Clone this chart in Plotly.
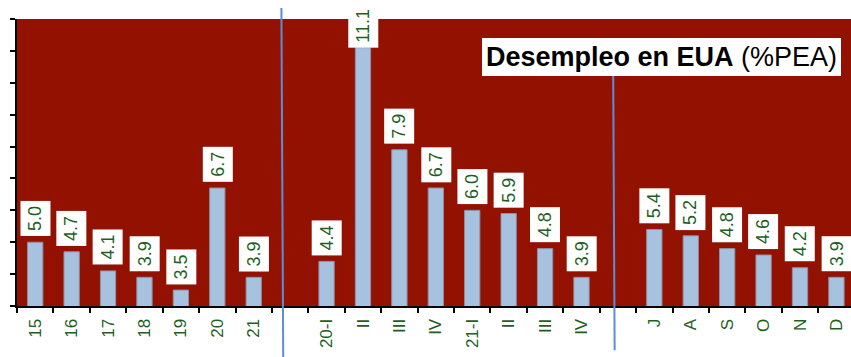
import plotly.graph_objects as go

# Unemployment rate (% of labour force), three blocks: annual, quarterly, monthly
annual_labels = ["15", "16", "17", "18", "19", "20", "21"]
annual_vals = [5.0, 4.7, 4.1, 3.9, 3.5, 6.7, 3.9]

quarter_labels = ["20-I", "II", "III", "IV", "21-I", "II", "III", "IV"]
quarter_vals = [4.4, 11.1, 7.9, 6.7, 6.0, 5.9, 4.8, 3.9]

month_labels = ["J", "A", "S", "O", "N", "D"]
month_vals = [5.4, 5.2, 4.8, 4.6, 4.2, 3.9]

# Lay the three blocks out on one numeric axis with an empty slot between blocks
blocks = [(annual_labels, annual_vals), (quarter_labels, quarter_vals), (month_labels, month_vals)]
xs, ys, labels = [], [], []
pos = 0
sep_positions = []
for i, (lab, val) in enumerate(blocks):
    for l, v in zip(lab, val):
        xs.append(pos)
        ys.append(v)
        labels.append(l)
        pos += 1
    if i < len(blocks) - 1:
        sep_positions.append(pos)
        pos += 1

RED = "#921100"
BAR = "#A7C2DE"
GREEN = "#1f5f1f"
SEP = "#5B8ED6"
FONT = "Liberation Sans, Arial, sans-serif"

fig = go.Figure()
fig.add_trace(go.Bar(
    x=xs, y=ys, width=0.42,
    marker=dict(color=BAR, line=dict(color="#8E8FA6", width=1)),
    hoverinfo="skip",
))

# Value labels in white boxes above each bar
for x, y in zip(xs, ys):
    fig.add_annotation(
        x=x, y=y, xref="x", yref="y",
        text=f"{y:.1f}", showarrow=False, textangle=-90,
        yanchor="bottom", yshift=0 if y > 10.5 else 6,
        font=dict(family=FONT, size=18, color=GREEN),
        bgcolor="white", borderpad=5, borderwidth=0,
    )

# Block separators
fig.add_shape(type="line", xref="x", yref="paper",
              x0=sep_positions[0] - 0.24, x1=sep_positions[0] - 0.19,
              y0=1.038, y1=-0.179, line=dict(color=SEP, width=2))
fig.add_shape(type="line", xref="x", yref="paper",
              x0=sep_positions[1] - 0.13, x1=sep_positions[1] - 0.09,
              y0=0.818, y1=-0.154, line=dict(color=SEP, width=2))

# Chart title box
fig.add_annotation(
    xref="paper", yref="paper", x=0.5577, y=0.9327,
    xanchor="left", yanchor="top", showarrow=False,
    text="<b>Desempleo en EUA</b> (%PEA)",
    font=dict(family=FONT, size=27, color="black"),
    bgcolor="white", borderpad=4, borderwidth=0,
)

fig.update_layout(
    width=851, height=357,
    margin=dict(l=17, r=0, t=19, b=51),
    paper_bgcolor="white", plot_bgcolor=RED,
    showlegend=False,
    xaxis=dict(
        range=[-0.5, 22.4],
        tickmode="array", tickvals=xs, ticktext=labels,
        tickangle=-90, ticks="", ticklabelstandoff=4,
        tickfont=dict(family=FONT, size=17, color=GREEN),
        showline=True, linecolor="black", linewidth=2,
        showgrid=False, zeroline=False,
        minor=dict(tickmode="linear", tick0=-0.5, dtick=1,
                   ticks="outside", ticklen=5, tickwidth=2, tickcolor="black",
                   showgrid=False),
    ),
    yaxis=dict(
        range=[3, 12], dtick=1, tick0=3,
        ticks="outside", ticklen=5, tickwidth=2, tickcolor="black",
        showticklabels=False,
        showline=True, linecolor="black", linewidth=2,
        showgrid=False, zeroline=False,
    ),
)

fig.write_html("out.html")
